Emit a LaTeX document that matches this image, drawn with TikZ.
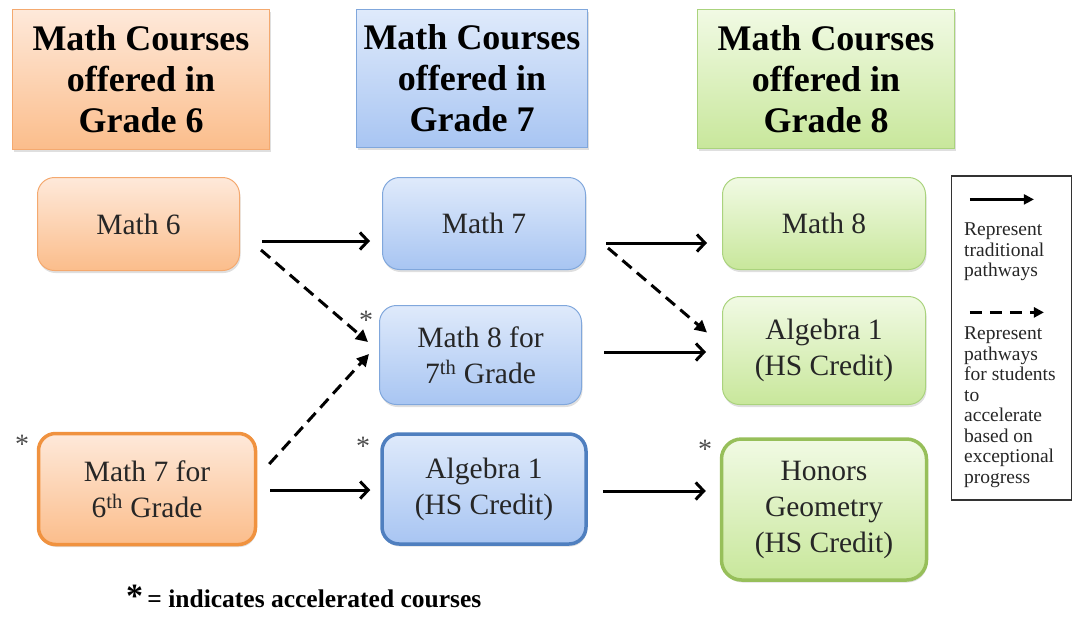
\documentclass[tikz,border=0pt]{standalone}
\usepackage{fontspec}
\setmainfont{Liberation Serif}
\usetikzlibrary{arrows.meta,calc,shadows}
\definecolor{oTop}{HTML}{FEE9DA}
\definecolor{oBot}{HTML}{FBBD8B}
\definecolor{oBrd}{HTML}{F4A96F}
\definecolor{oThk}{HTML}{F0923F}
\definecolor{bTop}{HTML}{DFEAFB}
\definecolor{bBot}{HTML}{A8C5F2}
\definecolor{bBrd}{HTML}{80A7DC}
\definecolor{bThk}{HTML}{4F7FBF}
\definecolor{gTop}{HTML}{F1FAE4}
\definecolor{gBot}{HTML}{C8E79B}
\definecolor{gBrd}{HTML}{AAD37D}
\definecolor{gThk}{HTML}{97BF5A}
\definecolor{txt}{HTML}{262626}
\tikzset{
  hdr/.style={rectangle, inner sep=0pt, align=center, line width=1pt,
    font=\fontsize{36}{41}\selectfont\bfseries, text=black,
    drop shadow={opacity=0.25, shadow xshift=1pt, shadow yshift=-2.5pt}},
  crs/.style={rectangle, rounded corners=17pt, inner sep=0pt, align=center, line width=1pt,
    font=\fontsize{29.5}{36}\selectfont, text=txt,
    drop shadow={opacity=0.25, shadow xshift=1pt, shadow yshift=-2.5pt}},
  orng/.style={draw=oBrd, top color=oTop, bottom color=oBot},
  blu/.style={draw=bBrd, top color=bTop, bottom color=bBot},
  grn/.style={draw=gBrd, top color=gTop, bottom color=gBot},
  thick border/.style={line width=3.5pt},
  sol/.style={line width=3pt, -{Straight Barb[length=8pt,width=17pt,line width=3pt]}},
  dsh/.style={line width=3pt, dash pattern=on 12pt off 7pt, -{Triangle[length=12pt,width=12pt]}},
  star/.style={inner sep=0pt, font=\fontsize{28}{28}\selectfont, text=black!70},
}
\begin{document}
\begin{tikzpicture}[x=1pt,y=-1pt]
\useasboundingbox (0,0) rectangle (1073,616);
% headers
\node[hdr, orng, minimum width=257pt, minimum height=140pt] (h6) at (141,79.5) {Math Courses\\offered in\\Grade 6};
\node[hdr, blu, minimum width=231pt, minimum height=138pt] (h7) at (472,78.5) {Math Courses\\offered in\\Grade 7};
\node[hdr, grn, minimum width=257pt, minimum height=139pt] (h8) at (826,79) {Math Courses\\offered in\\Grade 8};
% courses
\node[crs, orng, minimum width=202pt, minimum height=93pt] (m6) at (138.5,224) {Math 6};
\node[crs, blu, minimum width=203pt, minimum height=92pt] (m7) at (484,223.5) {Math 7};
\node[crs, grn, minimum width=203pt, minimum height=92pt] (m8) at (824,223.5) {Math 8};
\node[crs, blu, minimum width=202pt, minimum height=99pt] (m87) at (480.5,355) {Math 8 for\\7\textsuperscript{th} Grade};
\node[crs, grn, minimum width=203pt, minimum height=108pt] (a1g) at (824,350.5) {Algebra 1\\(HS Credit)};
\node[crs, orng, thick border, draw=oThk, minimum width=217pt, minimum height=111pt] (m76) at (147,489) {Math 7 for\\6\textsuperscript{th} Grade};
\node[crs, blu, thick border, draw=bThk, minimum width=204pt, minimum height=110pt] (a1b) at (484,489) {Algebra 1\\(HS Credit)};
\node[crs, grn, thick border, draw=gThk, rounded corners=20pt, minimum width=205pt, minimum height=141pt] (hg) at (824,509.5) {Honors\\Geometry\\(HS Credit)};
% asterisks
\node[star] (s1) at (22,444) {*};
\node[star] (s2) at (366,320) {*};
\node[star] (s3) at (363,446) {*};
\node[star] (s4) at (705,449) {*};
% solid arrows
\draw[sol] ($(m6.east)+(22,17)$) -- ($(m7.west)+(-12,17.5)$);
\draw[sol] ($(m7.east)+(20,19.5)$) -- ($(m8.west)+(-15,19.5)$);
\draw[sol] ($(m87.east)+(22,-3)$) -- ($(a1g.west)+(-16,1.5)$);
\draw[sol] ($(m76.east)+(13,1)$) -- ($(a1b.west)+(-10,1)$);
\draw[sol] ($(a1b.east)+(15,2)$) -- ($(hg.west)+(-14,-18.5)$);
% dashed arrows
\draw[dsh] ($(m6.east)+(21,26)$) -- ($(m87.west)+(-11,-13)$);
\draw[dsh] ($(m76.east)+(12,-25)$) -- ($(m87.west)+(-10,-1)$);
\draw[dsh] ($(m7.east)+(22,24.5)$) -- ($(a1g.west)+(-15,-18)$);
% legend
\node[draw=black!80, line width=1.2pt, rectangle, inner sep=0pt, minimum width=120pt, minimum height=324pt] (lg) at (1011.5,338) {};
\coordinate (ls1) at ($(lg.north west)+(19,24)$);
\coordinate (ls2) at ($(lg.north west)+(83,24)$);
\coordinate (ld1) at ($(lg.north west)+(19,137)$);
\coordinate (ld2) at ($(lg.north west)+(93,137)$);
\draw[line width=2.2pt, -{Triangle[length=10pt,width=10pt]}] (ls1) -- (ls2);
\draw[line width=3pt, dash pattern=on 12pt off 8pt, -{Triangle[length=10pt,width=10pt]}] (ld1) -- (ld2);
\node[anchor=north west, inner sep=0pt, align=left, font=\fontsize{19.5}{20.5}\selectfont, text=txt] (lt1) at (964,223) {Represent\\traditional\\pathways};
\node[anchor=north west, inner sep=0pt, align=left, font=\fontsize{19.5}{20.5}\selectfont, text=txt] (lt2) at (964,327) {Represent\\pathways\\for students\\to\\accelerate\\based on\\exceptional\\progress};
% footnote
\node[anchor=base west, inner sep=0pt, font=\fontsize{25.5}{26}\selectfont\bfseries] (fn) at (126,607) {{\fontsize{34}{34}\selectfont *}\,= indicates accelerated courses};
\end{tikzpicture}
\end{document}
